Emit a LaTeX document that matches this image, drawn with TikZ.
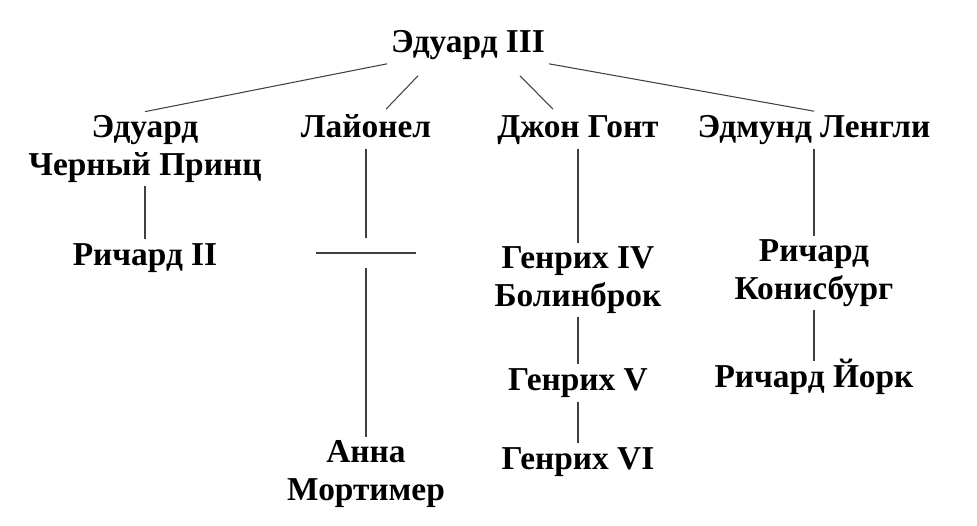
\documentclass[tikz,border=0pt]{standalone}
\usepackage{fontspec}
\setmainfont{Liberation Serif}
\usepackage{tikz}
\usetikzlibrary{positioning, calc}

\begin{document}
\begin{tikzpicture}[x=0.02cm, y=-0.02cm,
  person/.style={font=\bfseries\fontsize{19}{21.5}\selectfont, align=center,
    inner sep=2pt},
  single/.style={person, text height=13pt, text depth=4pt},
  link/.style={draw=black!75, line width=0.6pt}]
  \useasboundingbox (0,0) rectangle (977,526);
  \node[single] (E3) at (468,45) {Эдуард III};
  \node[person] (EBP) at (145,149) {Эдуард\\Черный Принц};
  \node[single] (Lio) at (366,130) {Лайонел};
  \node[single] (JG) at (578,130) {Джон Гонт};
  \node[single] (EL) at (814,130) {Эдмунд Ленгли};
  \node[single] (R2) at (145,258) {Ричард II};
  \node[person] (H4) at (578,280) {Генрих IV\\Болинброк};
  \node[single] (H5) at (578,383) {Генрих V};
  \node[single] (H6) at (578,462) {Генрих VI};
  \node[person] (RK) at (814,273) {Ричард\\Конисбург};
  \node[single] (RY) at (814,380) {Ричард Йорк};
  \node[person] (AM) at (366,474) {Анна\\Мортимер};
  \coordinate (cross) at (366,253);
  % from Edward III
  \draw[link] (E3.south west) -- (EBP.north);
  \draw[link] ($(E3.south)+(-50,12)$) -- ($(Lio.north)+(20,-2)$);
  \draw[link] ($(E3.south)+(52,12)$) -- ($(JG.north)+(-25,-2)$);
  \draw[link] (E3.south east) -- (EL.north);
  % lines of descent
  \draw[link] (EBP.south) -- (R2.north);
  \draw[link] (Lio.south) -- ($(cross)+(0,-15)$);
  \draw[link] ($(cross)+(-50,0)$) -- ($(cross)+(50,0)$);
  \draw[link] ($(cross)+(0,15)$) -- (AM.north);
  \draw[link] (JG.south) -- (H4.north);
  \draw[link] (H4.south) -- (H5.north);
  \draw[link] (H5.south) -- (H6.north);
  \draw[link] (EL.south) -- (RK.north);
  \draw[link] (RK.south) -- (RY.north);
\end{tikzpicture}
\end{document}
